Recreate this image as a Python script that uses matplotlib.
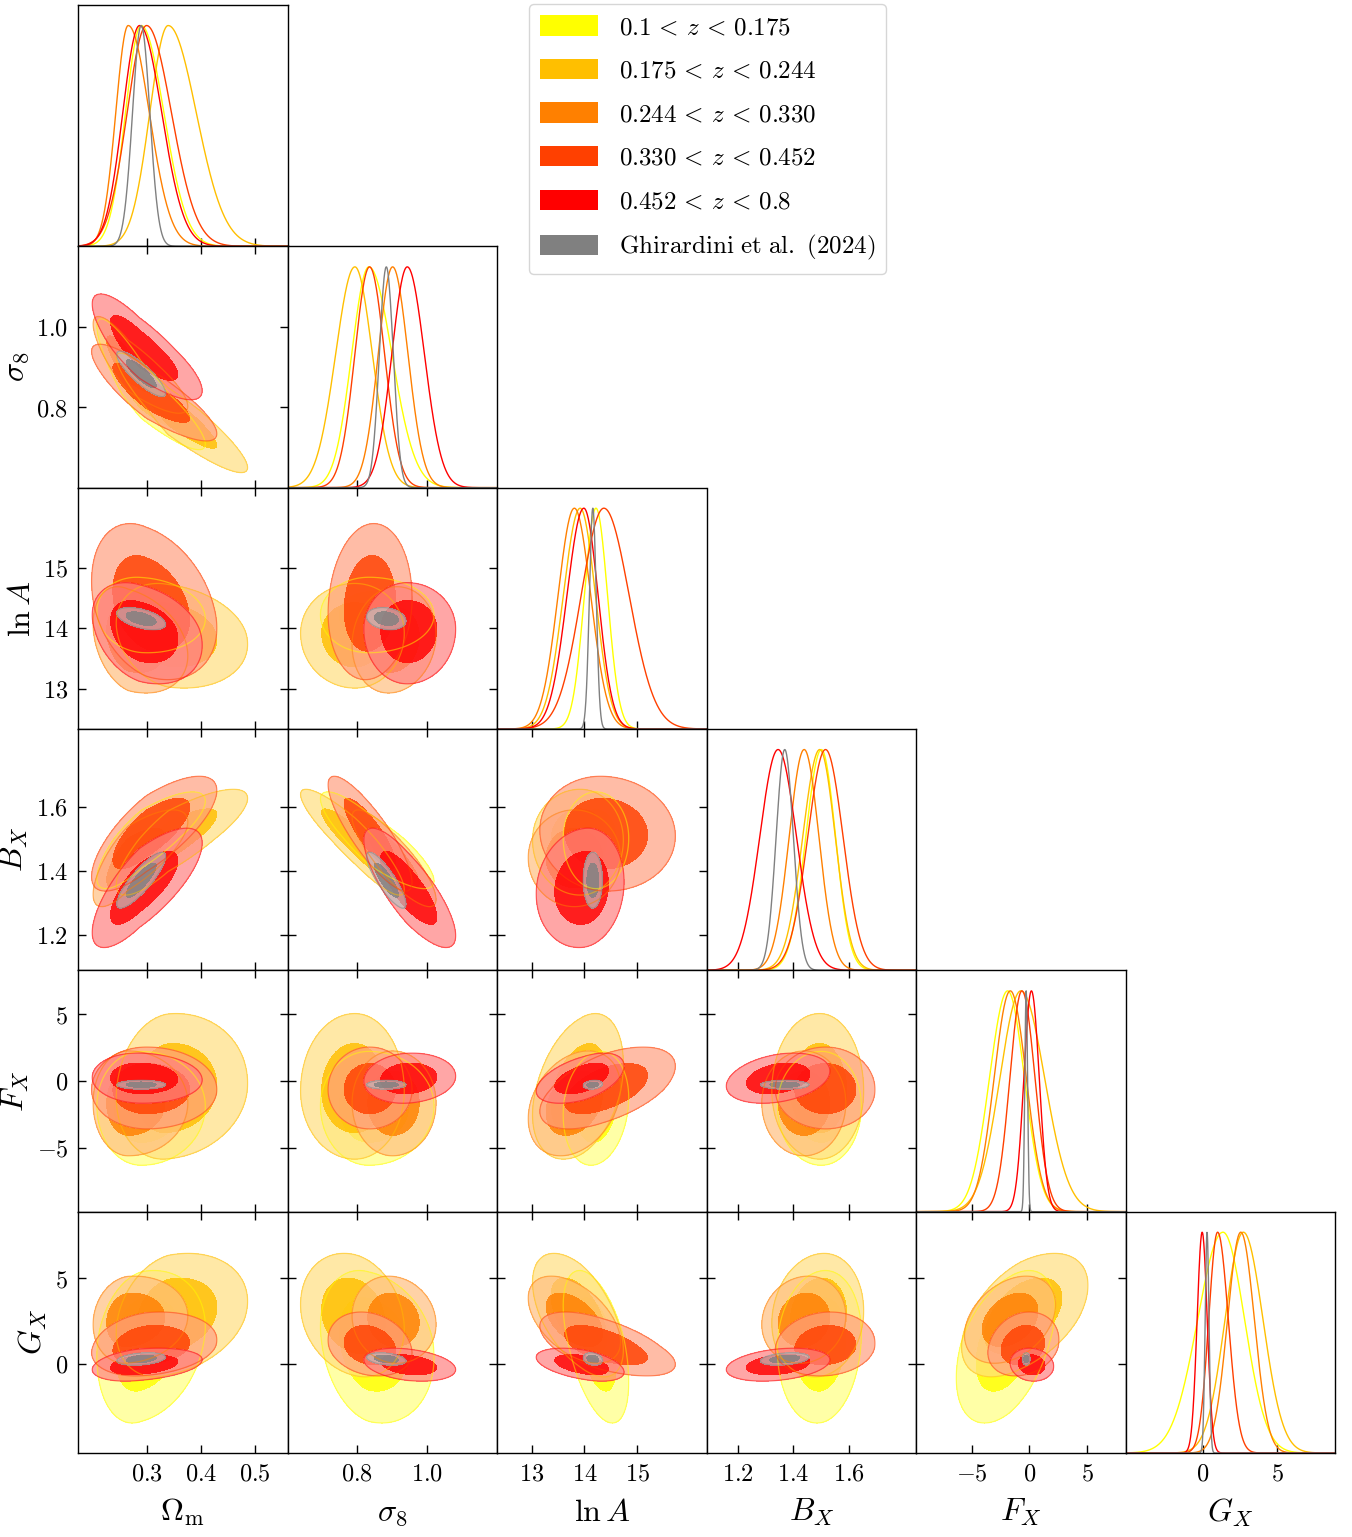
import numpy as np
import matplotlib.pyplot as plt
from matplotlib.patches import Patch
from matplotlib.colors import to_rgb

plt.rcParams['mathtext.fontset'] = 'cm'
plt.rcParams['font.family'] = 'DejaVu Serif'

# samples: five redshift bins + reference
bin_labels = [r'$0.1\,<\,z\,<\,0.175$', r'$0.175\,<\,z\,<\,0.244$', r'$0.244\,<\,z\,<\,0.330$',
              r'$0.330\,<\,z\,<\,0.452$', r'$0.452\,<\,z\,<\,0.8$',
              r'$\mathrm{Ghirardini\ et\ al.\ (2024)}$']
bin_colors = ['#ffff00', '#ffbf00', '#ff8000', '#ff4000', '#ff0000', '#808080']

# parameters
param_names = [r'$\Omega_{\rm m}$', r'$\sigma_8$', r'$\ln A$', r'$B_X$', r'$F_X$', r'$G_X$']
param_ticks = [[0.3, 0.4, 0.5], [0.8, 1.0], [13, 14, 15], [1.2, 1.4, 1.6], [-5, 0, 5], [0, 5]]
param_tick_text = [['0.3', '0.4', '0.5'], ['0.8', '1.0'], ['13', '14', '15'],
                   ['1.2', '1.4', '1.6'], ['-5', '0', '5'], ['0', '5']]
param_lims = [(0.172, 0.56), (0.6, 1.2), (12.34, 16.32), (1.088, 1.843), (-9.8, 8.3), (-5.2, 8.9)]

# posterior peak (rows: samples, cols: Om, s8, lnA, BX, FX, GX)
post_mean = [
    [0.289, 0.833, 14.22, 1.502, -1.88, 1.36],
    [0.339, 0.793, 13.92, 1.496, -0.74, 2.73],
    [0.265, 0.901, 13.81, 1.440, -1.65, 2.56],
    [0.299, 0.835, 14.37, 1.517, -0.65, 1.00],
    [0.286, 0.943, 13.99, 1.346, 0.17, -0.04],
    [0.289, 0.883, 14.16, 1.370, -0.28, 0.29],
]
# lower / upper widths (split gaussian)
post_sig_lo = [
    [0.029, 0.049, 0.22, 0.056, 1.57, 1.70],
    [0.034, 0.055, 0.32, 0.061, 1.81, 1.23],
    [0.023, 0.041, 0.31, 0.054, 1.40, 0.89],
    [0.036, 0.042, 0.43, 0.064, 1.04, 0.60],
    [0.031, 0.044, 0.32, 0.066, 0.65, 0.34],
    [0.016, 0.020, 0.065, 0.031, 0.12, 0.13],
]
post_sig_hi = [
    [0.042, 0.066, 0.22, 0.051, 1.45, 1.45],
    [0.052, 0.050, 0.29, 0.056, 2.05, 1.32],
    [0.039, 0.044, 0.31, 0.053, 1.38, 0.91],
    [0.046, 0.043, 0.48, 0.063, 1.13, 0.72],
    [0.041, 0.049, 0.27, 0.066, 0.68, 0.34],
    [0.016, 0.020, 0.065, 0.031, 0.12, 0.13],
]
# correlation coefficients, pair order (0,1),(0,2),...,(4,5)
post_corr = [
    [-0.90, -0.10, 0.80, 0.00, 0.20, 0.00, -0.85, 0.00, -0.20, 0.00, 0.15, -0.50, 0.00, 0.10, 0.45],
    [-0.92, -0.20, 0.82, 0.10, 0.25, 0.00, -0.90, 0.00, -0.20, 0.00, 0.35, -0.55, 0.00, 0.10, 0.50],
    [-0.85, -0.30, 0.75, 0.00, 0.10, 0.10, -0.85, 0.00, -0.10, 0.00, 0.30, -0.50, 0.00, 0.10, 0.35],
    [-0.85, -0.30, 0.75, 0.00, 0.20, 0.10, -0.85, 0.00, -0.20, -0.05, 0.55, -0.60, 0.00, 0.10, 0.20],
    [-0.82, -0.30, 0.75, -0.05, 0.30, 0.00, -0.80, 0.10, -0.30, 0.10, 0.50, -0.45, 0.30, 0.30, -0.10],
    [-0.85, -0.50, 0.85, 0.00, 0.30, -0.20, -0.85, 0.00, -0.30, 0.00, 0.20, -0.20, 0.00, 0.30, 0.00],
]

npar = len(param_names)
pairs = [(i, j) for i in range(npar) for j in range(i + 1, npar)]
pair_idx = {p: k for k, p in enumerate(pairs)}

# contour levels (smoothed 68% / 95% regions)
LEV68, LEV95 = 3.0, 8.0


def split_u(x, k, p):
    m = post_mean[k][p]
    return np.where(x < m, (x - m) / post_sig_lo[k][p], (x - m) / post_sig_hi[k][p])


def lighter(c, f=0.5):
    rgb = np.array(to_rgb(c))
    return tuple(rgb + (1 - rgb) * f)


fig, axes = plt.subplots(npar, npar, figsize=(13.52, 15.37), dpi=100)
fig.subplots_adjust(left=78 / 1352, right=1335 / 1352, top=1 - 5 / 1537,
                    bottom=1 - 1453 / 1537, wspace=0, hspace=0)

for row in range(npar):
    for col in range(npar):
        ax = axes[row, col]
        if col > row:
            ax.remove()
            continue
        ax.set_xlim(*param_lims[col])
        if row == col:
            xs = np.linspace(*param_lims[col], 600)
            for k in range(len(bin_labels)):
                u = split_u(xs, k, col)
                ax.plot(xs, np.exp(-0.5 * u ** 2), color=bin_colors[k], lw=1.0)
            ax.set_ylim(0, 1.093)
            ax.set_yticks([])
            ax.tick_params(direction='in', length=6, width=1, top=False)
        else:
            xs = np.linspace(*param_lims[col], 300)
            ys = np.linspace(*param_lims[row], 300)
            X, Y = np.meshgrid(xs, ys)
            for k in range(len(bin_labels)):
                u = split_u(X, k, col)
                v = split_u(Y, k, row)
                r = post_corr[k][pair_idx[(col, row)]]
                Q = (u ** 2 - 2 * r * u * v + v ** 2) / (1 - r ** 2)
                c = bin_colors[k]
                ax.contourf(X, Y, Q, levels=[0, LEV95], colors=[lighter(c)], alpha=0.7)
                ax.contourf(X, Y, Q, levels=[0, LEV68], colors=[c], alpha=0.82)
                ax.contour(X, Y, Q, levels=[LEV95], colors=[c], alpha=0.5, linewidths=0.9)
            ax.set_ylim(*param_lims[row])
            ax.set_yticks(param_ticks[row])
            ax.tick_params(direction='in', length=6, width=1, top=True, right=True)
            if col == 0:
                ax.set_yticklabels(['$' + t + '$' for t in param_tick_text[row]])
                ax.set_ylabel(param_names[row], fontsize=23, labelpad=4)
            else:
                ax.set_yticklabels([])
        ax.set_xticks(param_ticks[col])
        if row == npar - 1:
            ax.set_xticklabels(['$' + t + '$' for t in param_tick_text[col]])
            ax.set_xlabel(param_names[col], fontsize=23, labelpad=8)
        else:
            ax.set_xticklabels([])
        ax.tick_params(labelsize=17.5, pad=7)
        for s in ax.spines.values():
            s.set_linewidth(1.0)

handles = [Patch(facecolor=c, edgecolor='none') for c in bin_colors]
fig.legend(handles, bin_labels, loc='upper left', bbox_to_anchor=(529 / 1352, 1 - 4 / 1537),
           borderaxespad=0, fontsize=18, frameon=True, fancybox=True, edgecolor='#cccccc',
           handlelength=2.3, handleheight=0.88, labelspacing=0.79,
           borderpad=0.45, handletextpad=0.84)

plt.savefig('out.png', dpi=100, facecolor='white')
